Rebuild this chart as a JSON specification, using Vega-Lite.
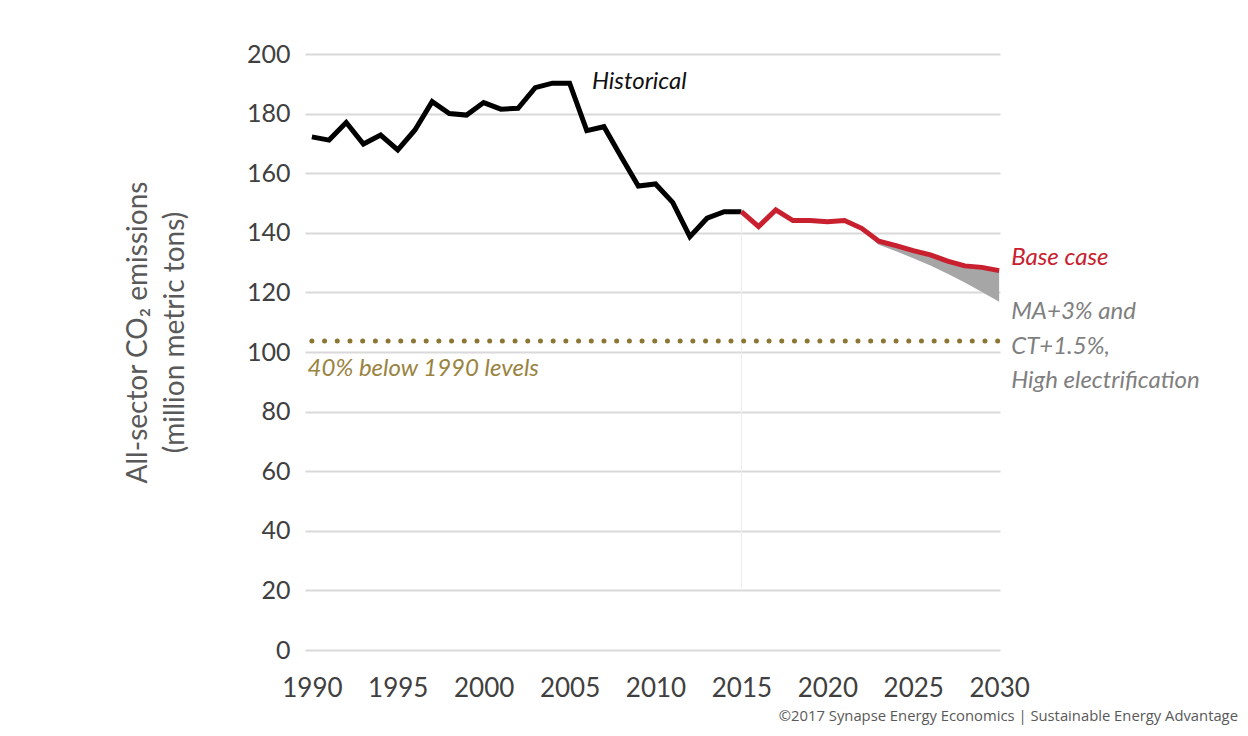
{
  "$schema": "https://vega.github.io/schema/vega-lite/v6.json",
  "width": 695,
  "height": 596,
  "autosize": {"type": "none"},
  "padding": {"left": 305, "top": 54, "right": 248, "bottom": 86},
  "background": "white",
  "config": {
    "view": {"stroke": null},
    "font": "Lato",
    "text": {"font": "Lato"}
  },
  "datasets": {
    "hist": [
      {"year": 1990, "v": 172.2}, {"year": 1991, "v": 171.1}, {"year": 1992, "v": 177.0},
      {"year": 1993, "v": 169.8}, {"year": 1994, "v": 172.8}, {"year": 1995, "v": 167.8},
      {"year": 1996, "v": 174.5}, {"year": 1997, "v": 184.0}, {"year": 1998, "v": 180.0},
      {"year": 1999, "v": 179.5}, {"year": 2000, "v": 183.7}, {"year": 2001, "v": 181.5},
      {"year": 2002, "v": 181.8}, {"year": 2003, "v": 188.7}, {"year": 2004, "v": 190.2},
      {"year": 2005, "v": 190.2}, {"year": 2006, "v": 174.3}, {"year": 2007, "v": 175.6},
      {"year": 2008, "v": 165.5}, {"year": 2009, "v": 155.7}, {"year": 2010, "v": 156.4},
      {"year": 2011, "v": 150.2}, {"year": 2012, "v": 138.7}, {"year": 2013, "v": 144.9},
      {"year": 2014, "v": 147.1}, {"year": 2015, "v": 147.1}
    ],
    "proj": [
      {"year": 2015, "base": 147.1, "low": 147.1},
      {"year": 2016, "base": 142.1, "low": 142.1},
      {"year": 2017, "base": 147.7, "low": 147.7},
      {"year": 2018, "base": 144.1, "low": 144.1},
      {"year": 2019, "base": 144.1, "low": 144.1},
      {"year": 2020, "base": 143.7, "low": 143.7},
      {"year": 2021, "base": 144.1, "low": 144.1},
      {"year": 2022, "base": 141.5, "low": 141.0},
      {"year": 2023, "base": 137.2, "low": 136.0},
      {"year": 2024, "base": 135.7, "low": 133.8},
      {"year": 2025, "base": 134.0, "low": 131.5},
      {"year": 2026, "base": 132.6, "low": 129.0},
      {"year": 2027, "base": 130.5, "low": 126.3},
      {"year": 2028, "base": 128.9, "low": 123.3},
      {"year": 2029, "base": 128.4, "low": 120.1},
      {"year": 2030, "base": 127.3, "low": 116.9}
    ],
    "target": [
      {"year": 1990, "v": 103.7},
      {"year": 2030, "v": 103.7}
    ],
    "vline": [
      {"year": 2015, "v": 145, "v2": 20}
    ],
    "labels": [
      {"year": 2006.3, "v": 190.6, "t": "Historical", "c": "black"},
      {"year": 2030.7, "v": 131.6, "t": "Base case", "c": "red"},
      {"year": 2030.7, "v": 113.3, "t": "MA+3% and", "c": "gray"},
      {"year": 2030.7, "v": 101.8, "t": "CT+1.5%,", "c": "gray"},
      {"year": 2030.7, "v": 90.3, "t": "High electrification", "c": "gray"},
      {"year": 1989.75, "v": 94.3, "t": "40% below 1990 levels", "c": "gold"}
    ],
    "credit": [
      {"year": 2043.9, "v": -22.5, "t": "©2017 Synapse Energy Economics | Sustainable Energy Advantage"}
    ]
  },
  "layer": [
    {
      "data": {"name": "hist"},
      "mark": {"type": "line", "color": "black", "strokeWidth": 5, "strokeJoin": "miter", "clip": false},
      "encoding": {
        "x": {
          "field": "year", "type": "quantitative",
          "scale": {"domain": [1989.6, 2030.05], "nice": false, "zero": false},
          "axis": {
            "values": [1990, 1995, 2000, 2005, 2010, 2015, 2020, 2025, 2030],
            "format": "d", "title": null, "grid": false, "domain": false, "ticks": false,
            "labelOverlap": false, "labelFlush": false,
            "labelFont": "Lato", "labelFontSize": 26, "labelColor": "#404040",
            "labelPadding": 25
          }
        },
        "y": {
          "field": "v", "type": "quantitative",
          "scale": {"domain": [0, 200], "nice": false},
          "axis": {
            "values": [0, 20, 40, 60, 80, 100, 120, 140, 160, 180, 200],
            "title": ["All-sector CO₂ emissions", "(million metric tons)"],
            "titleFont": "Lato", "titleFontSize": 28, "titleFontWeight": "normal",
            "titleColor": "#595959", "titlePadding": 57, "titleLineHeight": 37,
            "titleY": 278,
            "grid": true, "gridColor": "#d9d9d9", "gridWidth": 2,
            "domain": false, "ticks": false, "labelOverlap": false, "labelFlush": false,
            "labelFont": "Lato", "labelFontSize": 25, "labelColor": "#404040",
            "labelPadding": 15
          }
        }
      }
    },
    {
      "data": {"name": "vline"},
      "mark": {"type": "rule", "color": "#eeeeee", "strokeWidth": 1},
      "encoding": {
        "x": {"field": "year", "type": "quantitative"},
        "y": {"field": "v", "type": "quantitative"},
        "y2": {"field": "v2"}
      }
    },
    {
      "data": {"name": "target"},
      "mark": {"type": "line", "color": "#8c7634", "strokeWidth": 5, "strokeCap": "round", "strokeDash": [0, 12.7]},
      "encoding": {
        "x": {"field": "year", "type": "quantitative"},
        "y": {"field": "v", "type": "quantitative"}
      }
    },
    {
      "data": {"name": "proj"},
      "mark": {"type": "area", "color": "#a6a6a6", "opacity": 1},
      "encoding": {
        "x": {"field": "year", "type": "quantitative"},
        "y": {"field": "low", "type": "quantitative"},
        "y2": {"field": "base"}
      }
    },
    {
      "data": {"name": "proj"},
      "mark": {"type": "line", "color": "#c8202f", "strokeWidth": 5, "strokeJoin": "miter"},
      "encoding": {
        "x": {"field": "year", "type": "quantitative"},
        "y": {"field": "base", "type": "quantitative"}
      }
    },
    {
      "data": {"name": "labels"},
      "mark": {"type": "text", "align": "left", "baseline": "middle", "font": "Lato", "fontSize": 24, "fontStyle": "italic"},
      "encoding": {
        "x": {"field": "year", "type": "quantitative"},
        "y": {"field": "v", "type": "quantitative"},
        "text": {"field": "t"},
        "color": {
          "field": "c", "type": "nominal", "legend": null,
          "scale": {"domain": ["black", "red", "gray", "gold"], "range": ["#111111", "#c8202f", "#7f7f7f", "#9a8340"]}
        }
      }
    },
    {
      "data": {"name": "credit"},
      "mark": {"type": "text", "align": "right", "baseline": "middle", "font": "Open Sans", "fontSize": 14.8, "color": "#595959"},
      "encoding": {
        "x": {"field": "year", "type": "quantitative"},
        "y": {"field": "v", "type": "quantitative"},
        "text": {"field": "t"}
      }
    }
  ]
}
